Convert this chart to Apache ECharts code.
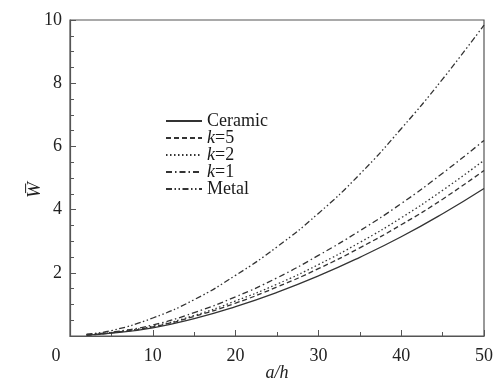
<!DOCTYPE html>
<html>
<head>
<meta charset="utf-8">
<script src="https://cdn.jsdelivr.net/npm/echarts@6/dist/echarts.min.js"></script>
<style>html,body{margin:0;padding:0;background:#fff;}#c{width:495px;height:381px;}</style>
</head>
<body>
<div id="c"></div>
<script>
var aOverH = [2, 5, 10, 15, 20, 25, 30, 35, 40, 45, 50];
var ceramic = [0.03, 0.09, 0.26, 0.55, 0.93, 1.38, 1.90, 2.49, 3.14, 3.87, 4.67];
var k5 = [0.03, 0.10, 0.29, 0.62, 1.04, 1.55, 2.13, 2.79, 3.52, 4.33, 5.24];
var k2 = [0.04, 0.11, 0.31, 0.65, 1.11, 1.64, 2.26, 2.96, 3.74, 4.61, 5.56];
var k1 = [0.04, 0.12, 0.35, 0.74, 1.24, 1.84, 2.55, 3.33, 4.19, 5.15, 6.19];
var metal = [0.06, 0.17, 0.57, 1.15, 1.92, 2.82, 3.88, 5.12, 6.56, 8.13, 9.84];
var seriesNames = ['Ceramic', 'k=5', 'k=2', 'k=1', 'Metal'];
var xTicks = [0, 10, 20, 30, 40, 50];
var yTicks = [0, 2, 4, 6, 8, 10];

var serif = '"Liberation Serif", "DejaVu Serif", serif';
var ink = '#333';
var dashes = ['solid', [5, 3], [1.5, 2.5], [6, 3, 1.5, 3], [6, 2.5, 1.5, 2.5, 1.5, 2.5]];
var values = [ceramic, k5, k2, k1, metal];

function pairs(ys) { return aOverH.map(function (x, i) { return [x, ys[i]]; }); }

var chart = echarts.init(document.getElementById('c'), null, {renderer: 'canvas'});
chart.setOption({
  animation: false,
  backgroundColor: '#fff',
  grid: {left: 70, right: 11, top: 20, bottom: 45, outerBoundsMode: 'none', containLabel: false,
         show: true, borderColor: '#555', borderWidth: 1.2, backgroundColor: 'transparent'},
  legend: {
    orient: 'vertical', left: 160, top: 107, itemWidth: 36, itemHeight: 10, itemGap: -1,
    itemStyle: {opacity: 0},
    data: seriesNames,
    formatter: function (n) { return n.indexOf('k=') === 0 ? '{i|k}{n|' + n.slice(1) + '}' : '{n|' + n + '}'; },
    textStyle: {
      fontFamily: serif, fontSize: 18, color: '#1a1a1a', lineHeight: 16,
      rich: {
        i: {fontFamily: serif, fontSize: 18, fontStyle: 'italic', color: '#1a1a1a', lineHeight: 16},
        n: {fontFamily: serif, fontSize: 18, color: '#1a1a1a', lineHeight: 16}
      }
    }
  },
  xAxis: {
    type: 'value', min: xTicks[0], max: xTicks[xTicks.length - 1], interval: 10,
    name: 'a/h', nameLocation: 'middle', nameGap: 28, nameMoveOverlap: false,
    nameTextStyle: {fontFamily: serif, fontSize: 18, fontStyle: 'italic', color: '#222'},
    axisLine: {show: true, lineStyle: {color: '#555', width: 1.2}},
    axisTick: {show: true, inside: true, length: 6, lineStyle: {color: '#555'}},
    minorTick: {show: true, splitNumber: 2, length: 4, lineStyle: {color: '#555'}},
    splitLine: {show: false},
    axisLabel: {
      fontFamily: serif, fontSize: 18, color: '#222', margin: 11,
      formatter: function (v) { return v === 0 ? '{z|0}' : String(v); },
      rich: {z: {fontFamily: serif, fontSize: 18, color: '#222', padding: [0, 28, 0, 0]}}
    }
  },
  yAxis: {
    type: 'value', min: yTicks[0], max: yTicks[yTicks.length - 1], interval: 2,
    name: 'W\u0305', nameLocation: 'middle', nameGap: 26, nameMoveOverlap: false,
    nameTextStyle: {fontFamily: serif, fontSize: 19, fontStyle: 'italic', color: '#222', padding: [0, 24, 0, 0]},
    axisLine: {show: true, lineStyle: {color: '#555', width: 1.2}},
    axisTick: {show: true, inside: true, length: 6, lineStyle: {color: '#555'}},
    minorTick: {show: true, splitNumber: 4, length: 4, lineStyle: {color: '#555'}},
    splitLine: {show: false},
    axisLabel: {fontFamily: serif, fontSize: 18, color: '#222', margin: 8, showMinLabel: false}
  },
  series: seriesNames.map(function (n, i) {
    return {
      name: n, type: 'line', data: pairs(values[i]), smooth: true, symbol: 'none',
      lineStyle: {color: ink, width: 1.3, type: dashes[i]},
      itemStyle: {color: ink}
    };
  })
});
</script>
</body>
</html>
